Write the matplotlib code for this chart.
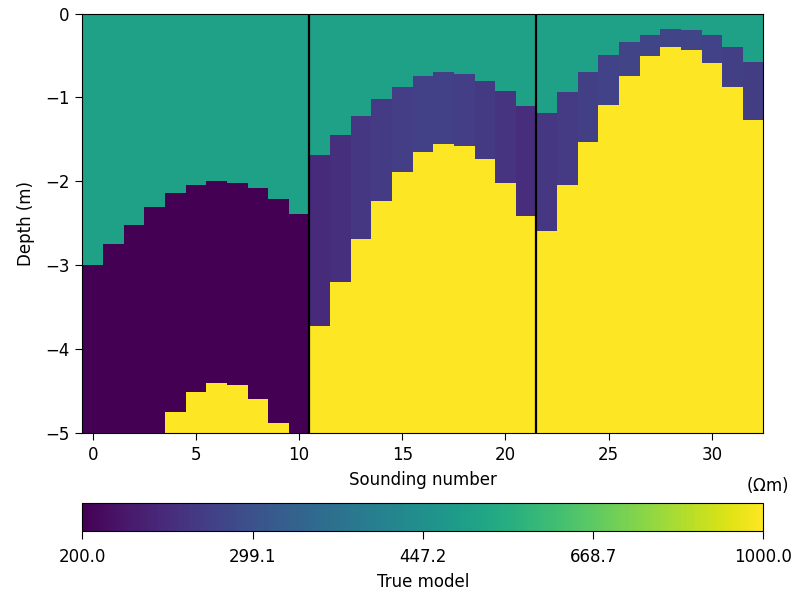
import numpy as np
import matplotlib.pyplot as plt
from matplotlib.colors import LogNorm

# sounding positions and layer interfaces (depth below surface, m)
soundings = np.arange(33)
top_interface = [3.00, 2.74, 2.52, 2.31, 2.14, 2.04, 2.00, 2.02, 2.08, 2.21, 2.39,
                 1.69, 1.45, 1.22, 1.02, 0.87, 0.75, 0.70, 0.72, 0.80, 0.92, 1.10,
                 1.18, 0.93, 0.70, 0.50, 0.34, 0.25, 0.18, 0.20, 0.26, 0.40, 0.58]
bottom_interface = [5.0, 5.0, 5.0, 5.0, 4.75, 4.51, 4.40, 4.43, 4.59, 4.88, 5.0,
                    3.72, 3.20, 2.68, 2.23, 1.89, 1.65, 1.55, 1.58, 1.73, 2.02, 2.41,
                    2.59, 2.04, 1.53, 1.09, 0.74, 0.51, 0.40, 0.43, 0.59, 0.88, 1.27]

# resistivities (Ohm m)
rho_top = 500.0
rho_middle = [200] * 11 + \
             [243, 250, 258, 264, 268, 272, 272, 268, 262, 255, 246] + \
             [258, 264, 270, 274, 276, 278, 278, 276, 274, 270, 266]
rho_bottom = 1000.0
vmin, vmax = 200.0, 1000.0

dz = 0.005
z_edges = np.arange(0, 5 + dz / 2, dz)
z_mid = 0.5 * (z_edges[1:] + z_edges[:-1])
model = np.zeros((len(z_mid), len(soundings)))
for i in range(len(soundings)):
    col = np.full(len(z_mid), float(rho_middle[i]))
    col[z_mid < top_interface[i]] = rho_top
    col[z_mid > bottom_interface[i]] = rho_bottom
    model[:, i] = col

x_edges = np.arange(len(soundings) + 1) - 0.5

fig = plt.figure(figsize=(7.96, 5.90), dpi=100)
ax = fig.add_axes([0.1036, 0.2656, 0.8555, 0.7115])
norm = LogNorm(vmin=vmin, vmax=vmax)
pc = ax.pcolormesh(x_edges, -z_edges, model, cmap='viridis', norm=norm, shading='flat')
for xb in [10.5, 21.5]:
    ax.axvline(xb, color='k', lw=1.6)
ax.set_xlim(-0.5, 32.5)
ax.set_ylim(-5, 0)
ax.set_xlabel('Sounding number', fontsize=12, labelpad=5)
ax.set_ylabel('Depth (m)', fontsize=12, labelpad=7)
ax.tick_params(labelsize=12, length=5, pad=4.5)

cax = fig.add_axes([0.1036, 0.1, 0.8555, 0.047])
ticks = np.logspace(np.log10(vmin), np.log10(vmax), 5)
cb = fig.colorbar(pc, cax=cax, orientation='horizontal')
cb.minorticks_off()
cb.set_ticks(ticks)
cb.set_ticklabels(['%.1f' % t for t in ticks])
cb.ax.tick_params(labelsize=12, length=5.5, pad=7)
cb.set_label('True model', fontsize=12, labelpad=5)
fig.text(0.99, 0.161, r'($\Omega$m)', ha='right', va='bottom', fontsize=12)

fig.savefig('out.png', dpi=100)
